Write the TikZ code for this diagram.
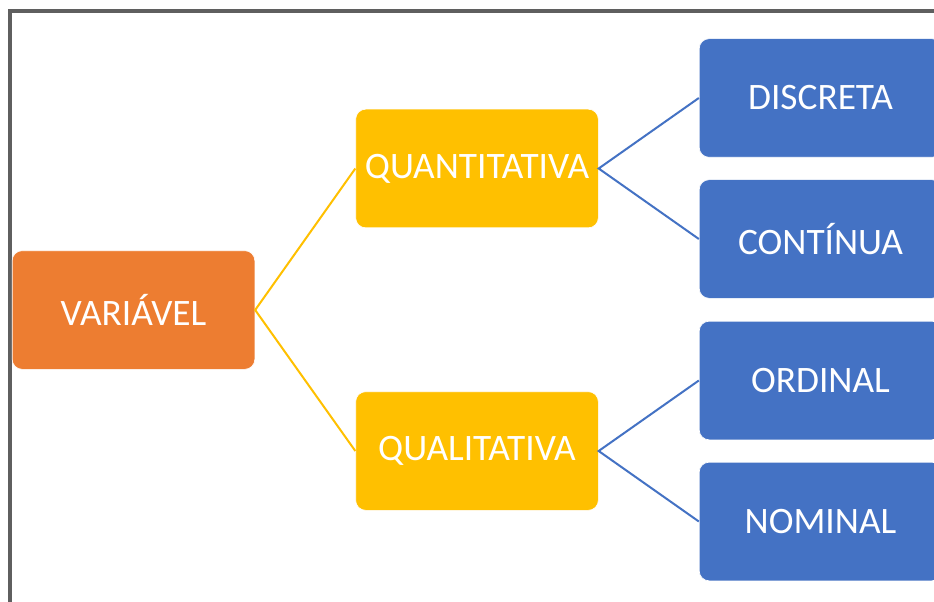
\documentclass[tikz,border=0pt]{standalone}
\usepackage{fontspec}
\setmainfont{Carlito}
\usepackage{xcolor}
\definecolor{frameGray}{RGB}{95,95,95}
\definecolor{varOrange}{RGB}{237,125,49}
\definecolor{typeGold}{RGB}{255,192,0}
\definecolor{kindBlue}{RGB}{68,114,196}

\tikzset{
  box/.style={rounded corners=7.5pt, draw=white, line width=0.5pt, text=white,
    minimum width=182pt, minimum height=89pt, inner sep=0pt,
    font=\fontsize{28}{33}\selectfont},
  varbox/.style={box, fill=varOrange},
  typebox/.style={box, fill=typeGold},
  kindbox/.style={box, fill=kindBlue},
  goldline/.style={draw=typeGold, line width=1.5pt},
  blueline/.style={draw=kindBlue, line width=1.5pt}
}

\begin{document}
\begin{tikzpicture}[x=0.75pt,y=0.75pt,yscale=-1,xscale=1]
%set diagram to the size of the reference
\clip (0,0) rectangle (934,602);
\fill[white] (0,0) rectangle (934,602);

%Straight Lines: frame top and left
\draw [frameGray, line width=3pt] (10,602) -- (10,11.5) -- (934,11.5) ;

% Text Node
\node [varbox] (var) at (133.5,310) {VARIÁVEL};
% Text Node
\node [typebox] (quant) at (477,168.5) {QUANTITATIVA};
% Text Node
\node [typebox] (qual) at (477,451) {QUALITATIVA};
% Text Node
\node [kindbox] (disc) at (820.5,98) {DISCRETA};
% Text Node
\node [kindbox] (cont) at (820.5,239) {CONTÍNUA};
% Text Node
\node [kindbox] (ord) at (820.5,380.5) {ORDINAL};
% Text Node
\node [kindbox] (nom) at (820.5,521.5) {NOMINAL};

%Straight Lines
\draw [goldline] (quant.west) -- (var.east) -- (qual.west) ;
%Straight Lines
\draw [blueline] (disc.west) -- (quant.east) -- (cont.west) ;
%Straight Lines
\draw [blueline] (ord.west) -- (qual.east) -- (nom.west) ;

\end{tikzpicture}
\end{document}
